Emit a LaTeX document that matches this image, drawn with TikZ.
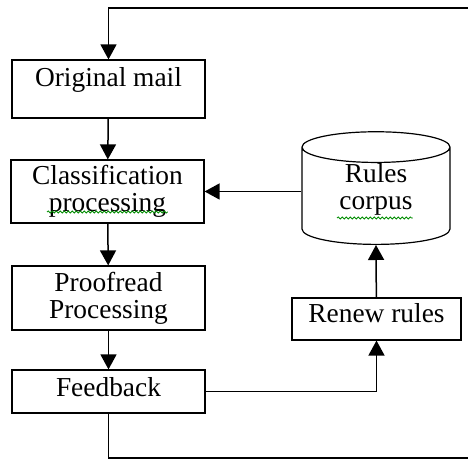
\documentclass[tikz,border=0pt]{standalone}
\usepackage{fontspec}
\setmainfont{Liberation Serif}
\usetikzlibrary{arrows.meta, shapes.geometric, decorations.pathmorphing}

\newcommand{\boxfont}{\fontsize{13.7}{13.5}\selectfont}

\tikzset{
  procbox/.style={draw, line width=0.6pt, minimum width=96.5pt, inner sep=0pt,
    align=center, font=\boxfont},
  store/.style={draw, line width=0.6pt, cylinder, shape border rotate=90,
    aspect=0.42, minimum width=74pt, minimum height=54pt, inner sep=0pt,
    align=center, font=\boxfont},
  flow/.style={line width=0.75pt, -{Triangle[length=7.5pt,width=8pt]}},
  plain/.style={line width=0.75pt},
  squig/.style={green!55!black, line width=0.4pt, decorate,
    decoration={snake, amplitude=0.5pt, segment length=2pt}}
}

\begin{document}
\begin{tikzpicture}[x=0.5pt, y=-0.5pt]
    \useasboundingbox (0,0) rectangle (468,459);

    % Left column: mail handling steps
    \node[procbox, minimum height=29pt, text depth=12pt] (mail) at (108.5,89) {Original mail};
    \node[procbox, minimum height=31.5pt] (classify) at (107.5,191.5) {Classification\\processing};
    \node[procbox, minimum height=32pt] (proof) at (108.5,298) {Proofread\\Processing};
    \node[procbox, minimum height=21.5pt, text depth=4pt] (feedback) at (108.5,391.5) {Feedback};

    % Right column: rule base and its update
    \node[store, anchor=south, text depth=10pt] (corpus) at (376,245) {Rules\\corpus};
    \node[procbox, minimum width=84.5pt, minimum height=21pt, text depth=6pt] (renew) at (376.5,319) {Renew rules};

    % Loop ends at the picture edge
    \coordinate (topR) at (468,8);
    \coordinate (botR) at (468,458);

    % Main flow
    \draw[flow] (topR) -| (mail.north);
    \draw[flow] (mail) -- (classify);
    \draw[flow] (classify) -- (proof);
    \draw[flow] (proof) -- (feedback);
    \draw[plain] (feedback.south) |- (botR);

    % Feedback into the rules
    \draw[flow] (feedback.east) -| (renew.south);
    \draw[flow] (renew) -- (corpus.south);
    \draw[flow] (corpus.west |- classify.east) -- (classify.east);

    % Spell-check marks
    \draw[squig] (47,212) -- (168,212);
    \draw[squig] (337,218) -- (413,218);
\end{tikzpicture}
\end{document}
